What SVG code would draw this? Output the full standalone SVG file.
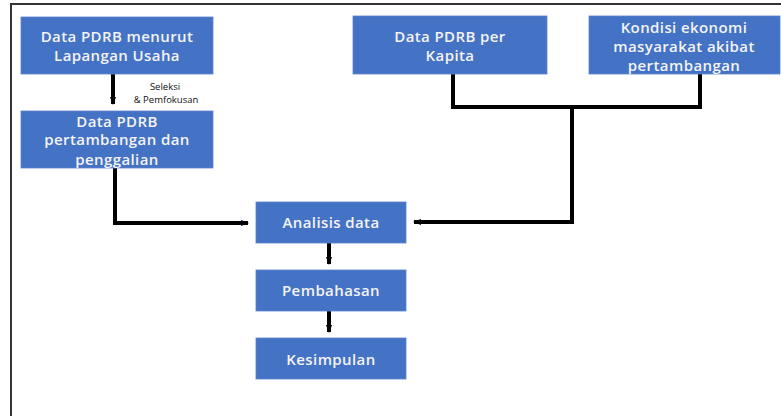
<svg xmlns="http://www.w3.org/2000/svg" width="781" height="416" viewBox="0 0 781 416">
<style>
.box{fill:#4472C4;stroke:#5a82cc;stroke-width:0.8}
.t{font-family:"Open Sans","Liberation Sans",sans-serif;font-size:15px;font-weight:600;letter-spacing:0.4px;fill:#f4f4f4;text-anchor:middle;dominant-baseline:central}
.lbl{font-family:"Open Sans","Liberation Sans",sans-serif;font-size:9.5px;fill:#111111;text-anchor:middle;dominant-baseline:central}
.c{fill:none;stroke:#000000;stroke-width:4;stroke-linejoin:miter}
</style>
<defs>
<marker id="ah" markerWidth="8" markerHeight="6" refX="7" refY="3" orient="auto" markerUnits="userSpaceOnUse">
<path d="M0,0 L8,3 L0,6 Z" fill="#000000"/>
</marker>
</defs>
<rect x="11" y="4" width="800" height="440" fill="none" stroke="#333333" stroke-width="2"/>
<g id="connectors">
<path class="c" d="M113,74 V104" marker-end="url(#ah)"/>
<path class="c" d="M115,168 V223 H248" marker-end="url(#ah)"/>
<path class="c" d="M453,74 V107 H700 V74"/>
<path class="c" d="M572,107 V222 H414" marker-end="url(#ah)"/>
<path class="c" d="M329,243 V264" marker-end="url(#ah)"/>
<path class="c" d="M329,311 V332" marker-end="url(#ah)"/>
<text class="lbl" x="165" y="86">Seleksi</text>
<text class="lbl" x="166" y="99">&amp; Pemfokusan</text>
</g>
<g id="n1"><rect class="box" x="21" y="17" width="192" height="57"/>
<text class="t" x="117" y="36">Data PDRB menurut</text><text class="t" x="117" y="55">Lapangan Usaha</text></g>
<g id="n2"><rect class="box" x="21" y="111" width="192" height="57"/>
<text class="t" x="117" y="121">Data PDRB</text><text class="t" x="117" y="139">pertambangan dan</text><text class="t" x="117" y="158.5">penggalian</text></g>
<g id="n3"><rect class="box" x="353" y="16" width="194" height="58"/>
<text class="t" x="450" y="36">Data PDRB per</text><text class="t" x="450" y="55">Kapita</text></g>
<g id="n4"><rect class="box" x="589" y="16" width="191" height="58"/>
<text class="t" x="684" y="27">Kondisi ekonomi</text><text class="t" x="684" y="46">masyarakat akibat</text><text class="t" x="684" y="65">pertambangan</text></g>
<g id="n5"><rect class="box" x="256" y="202" width="150" height="41"/>
<text class="t" x="331" y="222">Analisis data</text></g>
<g id="n6"><rect class="box" x="256" y="270" width="150" height="41"/>
<text class="t" x="331" y="290">Pembahasan</text></g>
<g id="n7"><rect class="box" x="256" y="338" width="150" height="41"/>
<text class="t" x="331" y="359">Kesimpulan</text></g>
</svg>
